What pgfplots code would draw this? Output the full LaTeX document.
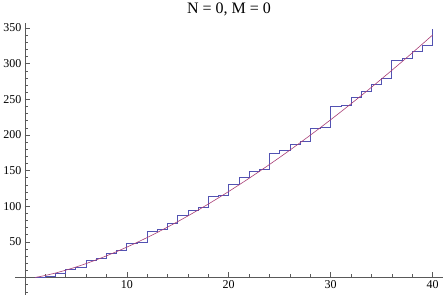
\documentclass[border=0pt]{standalone}
\usepackage{pgfplots}
\pgfplotsset{compat=1.18}
\usepackage{fontspec}
\setmainfont{Liberation Serif}
\definecolor{stepblue}{rgb}{0.32,0.32,0.70}
\definecolor{curvemag}{rgb}{0.66,0.24,0.46}
\begin{document}
\begin{tikzpicture}
\begin{axis}[
  scale only axis,
  width=428pt, height=272pt,
  xmin=-0.93, xmax=41.0, ymin=-24, ymax=357,
  axis lines=middle,
  axis line style={-, black!65, line width=0.5pt},
  xtick={10,20,30,40},
  ytick={50,100,...,350},
  minor xtick={2,4,...,40},
  minor ytick={-20,-10,...,350},
  tick align=inside,
  major tick length=5pt, minor tick length=3pt,
  tick style={black!65, line width=0.4pt},
  /pgf/number format/assume math mode=true,
  ticklabel style={font=\fontsize{12}{14}\selectfont},
  title={N = 0, M = 0},
  title style={font=\fontsize{16}{19}\selectfont, yshift=-3pt},
  clip=false,
]
% step function
\addplot[const plot, color=stepblue, line width=0.6pt]
  coordinates {(1,0)(2,2.3)(3,5.6)(4,11.7)(5,14.5)(6,23.8)(7,26.2)(8,34)(9,37.8)(10,48)
  (11,50)(12,65.4)(13,68.2)(14,76)(15,86.8)(16,94.7)(17,98)(18,113.4)(19,115.8)(20,130.7)
  (21,140)(22,148.5)(23,151)(24,174)(25,178.5)(26,187)(27,190.5)(28,209)(29,211)(30,239.5)
  (31,241.8)(32,252)(33,261.4)(34,270.7)(35,279)(36,305)(37,308)(38,317.5)(39,325)(40,348)};
% smooth curve
\addplot[color=curvemag, line width=0.6pt]
  coordinates {(1,0)(1.5,1.29)(2,2.76)(3,6.15)(4,10.10)(5,14.52)(6,19.37)(7,24.61)(8,30.23)(9,36.19)(10,42.48)
  (11,49.07)(12,55.97)(13,63.15)(14,70.60)(15,78.31)(16,86.28)(17,94.50)(18,102.96)(19,111.65)(20,120.57)
  (21,129.71)(22,139.06)(23,148.63)(24,158.40)(25,168.38)(26,178.55)(27,188.92)(28,199.48)(29,210.23)(30,221.16)
  (31,232.28)(32,243.57)(33,255.04)(34,266.68)(35,278.49)(36,290.47)(37,302.62)(38,314.93)(39,327.40)(40,340.03)};
\end{axis}
\end{tikzpicture}
\end{document}
